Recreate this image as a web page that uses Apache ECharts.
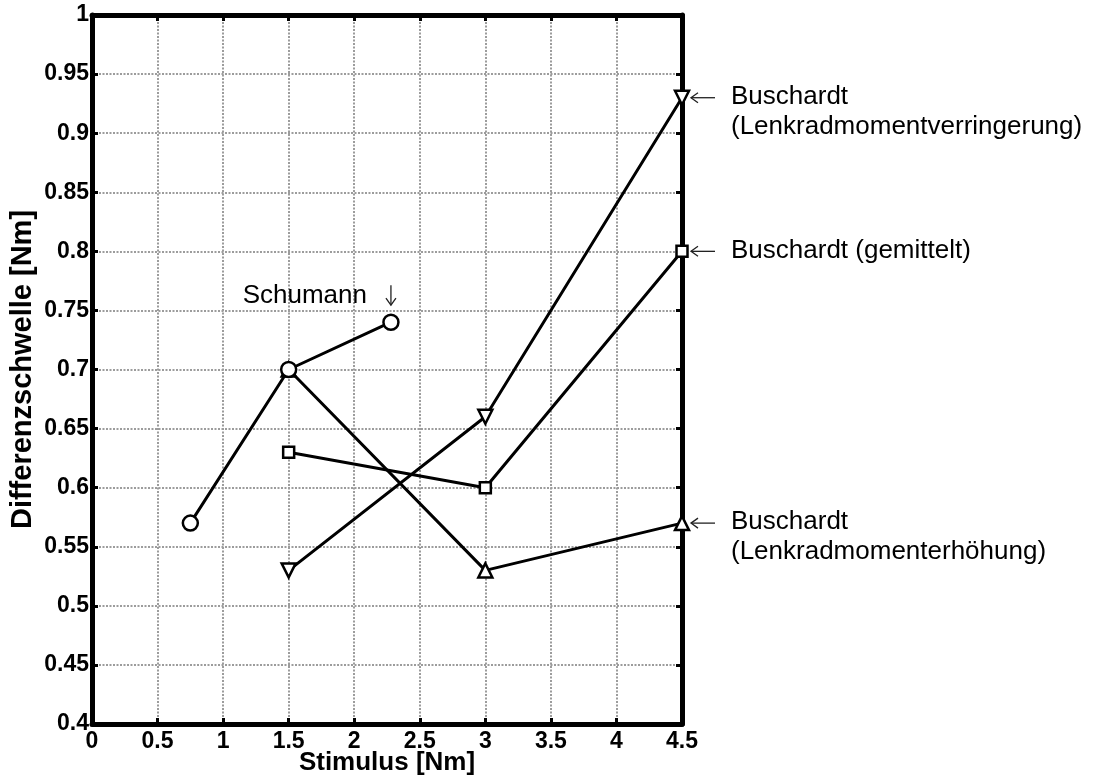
<!DOCTYPE html>
<html>
<head>
<meta charset="utf-8">
<script src="https://cdn.jsdelivr.net/npm/echarts@6/dist/echarts.min.js"></script>
<style>
  html, body { margin: 0; padding: 0; background: #fff; }
  #chart { width: 1093px; height: 778px; }
</style>
</head>
<body>
<div id="chart"></div>
<script>
// Stimulus [Nm] and difference threshold [Nm] per study
const schumannX = [0.75, 1.5, 2.28];
const schumannY = [0.57, 0.70, 0.74];

const stimulusX = [1.5, 3, 4.5];
const gemitteltY = [0.63, 0.60, 0.80];
const verringerungY = [0.53, 0.66, 0.93];
const erhoehungY = [0.70, 0.53, 0.57];

const xTicks = { min: 0, max: 4.5, interval: 0.5 };
const yTicks = { min: 0.4, max: 1, interval: 0.05 };

const xName = 'Stimulus [Nm]';
const yName = 'Differenzschwelle [Nm]';

const labelSchumann = 'Schumann';
const labelVerringerung = ['Buschardt', '(Lenkradmomentverringerung)'];
const labelGemittelt = ['Buschardt (gemittelt)'];
const labelErhoehung = ['Buschardt', '(Lenkradmomenterhöhung)'];

const FONT = '"Liberation Sans", Arial, sans-serif';

function pairs(xs, ys) { return xs.map((x, i) => [x, ys[i]]); }

function fmt(v) {
  return String(Math.round(v * 100) / 100);
}

const tickLabel = {
  show: true, color: '#000', fontFamily: FONT, fontWeight: 'bold', fontSize: 23
};

const frameLine = { show: true, onZero: false, lineStyle: { color: '#000', width: 5 } };
const innerTick = { show: true, inside: true, length: 6, lineStyle: { color: '#000', width: 3 } };
const gridLine = { show: true, lineStyle: { color: '#9c9c9c', width: 2, type: [2, 1.5] } };

const markerStyle = { color: '#fff', borderColor: '#000', borderWidth: 2.5 };
const lineStyle = { color: '#000', width: 3 };

function lineSeries(name, data, symbol, size, rotate) {
  return {
    name, type: 'line', data, symbol, symbolSize: size, symbolRotate: rotate || 0,
    showAllSymbol: true, lineStyle, itemStyle: markerStyle, z: 5,
    animation: false
  };
}

const chart = echarts.init(document.getElementById('chart'), null, { renderer: 'canvas' });

chart.setOption({
  backgroundColor: '#fff',
  animation: false,
  grid: {
    left: 92, right: 411, top: 15, bottom: 54,
    containLabel: false, outerBoundsMode: 'none'
  },
  xAxis: [
    {
      type: 'value', ...xTicks, position: 'bottom',
      name: xName, nameLocation: 'middle', nameGap: 26, nameMoveOverlap: false,
      nameTextStyle: { color: '#000', fontFamily: FONT, fontWeight: 'bold', fontSize: 26 },
      axisLine: frameLine, axisTick: innerTick, splitLine: gridLine,
      axisLabel: { ...tickLabel, margin: 6, formatter: fmt }
    },
    {
      type: 'value', ...xTicks, position: 'top',
      axisLine: frameLine, axisTick: innerTick, splitLine: { show: false },
      axisLabel: { show: false }
    }
  ],
  yAxis: [
    {
      type: 'value', ...yTicks, position: 'left',
      name: yName, nameLocation: 'middle', nameGap: 55, nameMoveOverlap: false,
      nameTextStyle: { color: '#000', fontFamily: FONT, fontWeight: 'bold', fontSize: 29 },
      axisLine: frameLine, axisTick: innerTick, splitLine: gridLine,
      axisLabel: { ...tickLabel, margin: 3, formatter: fmt }
    },
    {
      type: 'value', ...yTicks, position: 'right',
      axisLine: frameLine, axisTick: innerTick, splitLine: { show: false },
      axisLabel: { show: false }
    }
  ],
  series: [
    lineSeries('Buschardt (gemittelt)', pairs(stimulusX, gemitteltY), 'rect', 11),
    lineSeries('Buschardt (Lenkradmomentverringerung)', pairs(stimulusX, verringerungY), 'triangle', 14, 180),
    lineSeries('Buschardt (Lenkradmomenterhöhung)', pairs(stimulusX, erhoehungY), 'triangle', 14),
    lineSeries('Schumann', pairs(schumannX, schumannY), 'circle', 15)
  ]
});

// Annotations placed next to the data points they describe
function px(x, y) { return chart.convertToPixel({ xAxisIndex: 0, yAxisIndex: 0 }, [x, y]); }

const textStyleBase = { fill: '#000', fontFamily: FONT, fontSize: 26, fontWeight: 'normal' };
const arrowStyle = { stroke: '#222', lineWidth: 1.3, fill: null };
const graphics = [];

// thin arrow pointing left, tip at (x, y)
function leftArrow(x, y, len) {
  graphics.push({ type: 'line', shape: { x1: x, y1: y, x2: x + len, y2: y }, style: arrowStyle, z: 10 });
  graphics.push({ type: 'polyline', shape: { points: [[x + 7, y - 5], [x, y], [x + 7, y + 5]] }, style: arrowStyle, z: 10 });
}

// thin arrow pointing down, tip at (x, y)
function downArrow(x, y, len) {
  graphics.push({ type: 'line', shape: { x1: x, y1: y - len, x2: x, y2: y }, style: arrowStyle, z: 10 });
  graphics.push({ type: 'polyline', shape: { points: [[x - 5, y - 7], [x, y], [x + 5, y - 7]] }, style: arrowStyle, z: 10 });
}

function sideNote(x, y, lines) {
  const p = px(x, y);
  leftArrow(p[0] + 9, p[1], 24);
  lines.forEach((t, i) => {
    graphics.push({
      type: 'text', x: p[0] + 49, y: p[1] - 1 + i * 30,
      style: { ...textStyleBase, text: t, textVerticalAlign: 'middle', textAlign: 'left' }
    });
  });
}

const last = stimulusX.length - 1;
sideNote(stimulusX[last], verringerungY[last], labelVerringerung);
sideNote(stimulusX[last], gemitteltY[last], labelGemittelt);
sideNote(stimulusX[last], erhoehungY[last], labelErhoehung);

const sLast = schumannX.length - 1;
const sp = px(schumannX[sLast], schumannY[sLast]);
downArrow(sp[0], sp[1] - 17, 20);
graphics.push({
  type: 'text', x: sp[0] - 24, y: sp[1] - 26,
  style: { ...textStyleBase, text: labelSchumann, textVerticalAlign: 'middle', textAlign: 'right' }
});

chart.setOption({ graphic: graphics });
</script>
</body>
</html>
